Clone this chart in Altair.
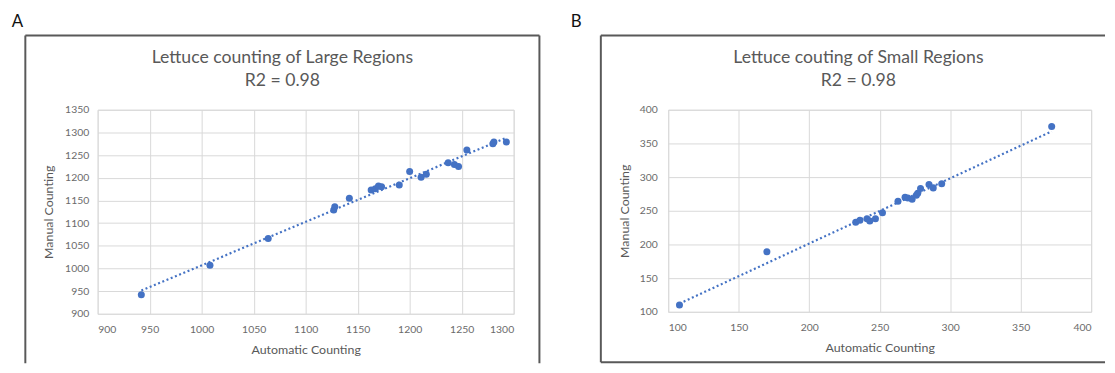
import altair as alt
import pandas as pd

# Panel A: Large regions
a_auto = [942, 1008, 1064, 1127, 1128, 1142, 1163, 1167, 1170, 1173, 1190, 1200, 1211, 1216, 1237, 1243, 1247, 1255, 1280, 1281, 1293]
a_manual = [942, 1007, 1066, 1129, 1136, 1155, 1173, 1176, 1182, 1180, 1184, 1214, 1201, 1208, 1233, 1229, 1225, 1261, 1275, 1279, 1279]
a_xticks = [900, 950, 1000, 1050, 1100, 1150, 1200, 1250, 1300]
a_yticks = [900, 950, 1000, 1050, 1100, 1150, 1200, 1250, 1300, 1350]

# Panel B: Small regions
b_auto = [108, 170, 233, 236, 241, 243, 247, 252, 263, 268, 270, 273, 276, 277, 279, 285, 288, 294, 372]
b_manual = [110, 189, 233, 236, 238, 235, 238, 247, 264, 270, 269, 267, 273, 276, 283, 289, 284, 290, 375]
b_xticks = [100, 150, 200, 250, 300, 350, 400]
b_yticks = [100, 150, 200, 250, 300, 350, 400]

a_title = ["Lettuce counting of Large Regions", "R2 = 0.98"]
b_title = ["Lettuce couting of Small Regions", "R2 = 0.98"]

FONT = "Lato"
GRAY = "#595959"
BLUE = "#4472C4"
FRAME = "#595959"


def panel(auto, manual, xdom, ydom, xticks, yticks, W, H, title, title_x,
          letter, letter_x, frame_lines, ylabpad, ytitlepad):
    df = pd.DataFrame({"auto": auto, "manual": manual})
    one = pd.DataFrame({"k": [0]})
    common = dict(labelFont=FONT, labelFontSize=10.5, labelColor="#6a6a6a",
                  titleFont=FONT, titleFontSize=12.5, titleColor=GRAY,
                  titleFontWeight="normal", domain=False, ticks=False,
                  gridColor="#d9d9d9", gridWidth=1, format="d")
    xenc = alt.X("auto:Q",
                 scale=alt.Scale(domain=xdom, nice=False, zero=False),
                 axis=alt.Axis(values=xticks, title="Automatic Counting",
                               labelPadding=11, titlePadding=9, **common))
    yenc = alt.Y("manual:Q",
                 scale=alt.Scale(domain=ydom, nice=False, zero=False),
                 axis=alt.Axis(values=yticks, title="Manual Counting",
                               labelPadding=ylabpad, titlePadding=ytitlepad, **common))
    trend = alt.Chart(df).transform_regression("auto", "manual").mark_line(
        color=BLUE, strokeDash=[2, 2.6], strokeWidth=2.2
    ).encode(x=xenc, y=yenc)
    pts = alt.Chart(df).mark_circle(size=50, color=BLUE, opacity=1).encode(x=xenc, y=yenc)

    layers = []
    for (x1, y1, x2, y2) in frame_lines:
        layers.append(alt.Chart(one).mark_rule(color=FRAME, strokeWidth=2).encode(
            x=alt.value(x1), y=alt.value(y1), x2=alt.value(x2), y2=alt.value(y2)))
    t1 = alt.Chart(one).mark_text(text=title[0], font=FONT, fontSize=17.8, color=GRAY,
                                  baseline="middle", align="center").encode(
        x=alt.value(title_x), y=alt.value(-52))
    t2 = alt.Chart(one).mark_text(text=title[1], font=FONT, fontSize=17.8, color=GRAY,
                                  baseline="middle", align="center").encode(
        x=alt.value(title_x), y=alt.value(-29))
    lt = alt.Chart(one).mark_text(text=letter, font=FONT, fontSize=17, color="#111111",
                                  baseline="middle", align="center").encode(
        x=alt.value(letter_x), y=alt.value(-89))
    return alt.layer(*layers, trend, pts, t1, t2, lt).properties(width=W, height=H)


A = panel(a_auto, a_manual, [900, 1300], [900, 1350], a_xticks, a_yticks, 420, 206,
          a_title, 186.5, "A", -81,
          [(-73, -75, 446, -75), (-73, -75, -73, 256), (446, -75, 446, 256)], 9, 9)
B = panel(b_auto, b_manual, [100, 400], [100, 400], b_xticks, b_yticks, 427, 204,
          b_title, 192, "B", -93,
          [(-68, -75, 441, -75), (-68, -75, -68, 255), (-68, 255, 441, 255)], 11, 8)

chart = alt.hconcat(A, B, spacing=29).properties(
    padding={"left": 2.5, "top": 2, "right": 0, "bottom": 0}
).configure_view(stroke="#d9d9d9", strokeWidth=1).configure(background="white")

chart.save("out.html", embed_options={"renderer": "svg", "actions": False})
